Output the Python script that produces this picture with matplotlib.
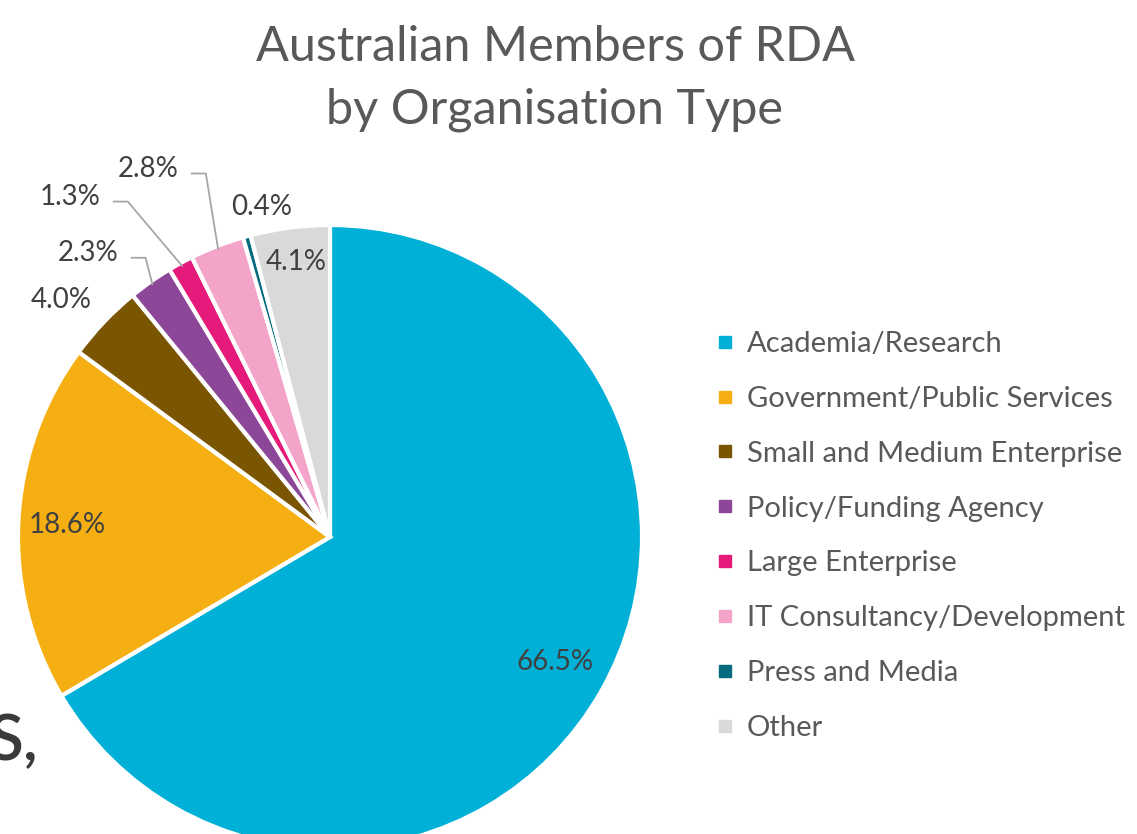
import matplotlib
matplotlib.use("Agg")
import matplotlib.pyplot as plt
from matplotlib.lines import Line2D
import numpy as np

categories = ["Academia/Research", "Government/Public Services", "Small and Medium Enterprise",
              "Policy/Funding Agency", "Large Enterprise", "IT Consultancy/Development",
              "Press and Media", "Other"]
values = [66.5, 18.6, 4.0, 2.3, 1.3, 2.8, 0.4, 4.1]
labels = ["66.5%", "18.6%", "4.0%", "2.3%", "1.3%", "2.8%", "0.4%", "4.1%"]
colors = ["#00B0D7", "#F6AF12", "#7A5502", "#8C4799", "#E61A7B", "#F4A3C9", "#046B7E", "#D9D9D9"]

# label positions (in pie-radius units) and whether a leader line is drawn
label_pos = [(0.72, -0.40), (-0.843, 0.04), (-0.86, 0.76), (-0.776, 0.91),
             (-0.833, 1.09), (-0.583, 1.18), (-0.218, 1.058), (-0.109, 0.88)]
leader = [False, False, False, True, True, True, False, False]

plt.rcParams['font.family'] = ['Lato', 'DejaVu Sans']
W, H = 1137, 834
fig = plt.figure(figsize=(W / 100, H / 100), dpi=100)
cx, cy, R = 330, 537, 312
ax = fig.add_axes([(cx - R) / W, (H - cy - R) / H, 2 * R / W, 2 * R / H])

wedges, _ = ax.pie(values, colors=colors, startangle=90, counterclock=False, radius=1,
                   wedgeprops=dict(edgecolor='white', linewidth=3), frame=False)
ax.set_xlim(-1, 1)
ax.set_ylim(-1, 1)
ax.axis('off')
for w in wedges:
    w.set_clip_on(False)

txtcol = "#404040"
for i, w in enumerate(wedges):
    lx, ly = label_pos[i]
    t = ax.text(lx, ly, labels[i], ha='center', va='center', fontsize=20, color=txtcol)
    t.set_clip_on(False)
    if leader[i]:
        mid = np.deg2rad((w.theta1 + w.theta2) / 2)
        ex, ey = np.cos(mid) * 0.99, np.sin(mid) * 0.99
        sx = lx + 0.14
        ex2 = sx + 0.045
        ln = ax.plot([sx, ex2, ex], [ly - 0.015, ly - 0.015, ey], color="#A6A6A6", lw=1.3)[0]
        ln.set_clip_on(False)

fig.text(555 / W, 1 - 47 / H, "Australian Members of RDA", ha='center', va='center',
         fontsize=35, color="#595959")
fig.text(555 / W, 1 - 110 / H, "by Organisation Type", ha='center', va='center',
         fontsize=35, color="#595959")

handles = [Line2D([0], [0], marker='s', linestyle='none', markersize=9,
                  markerfacecolor=c, markeredgecolor=c) for c in colors]
leg = fig.legend(handles, categories, loc='center left',
                 bbox_to_anchor=(703 / W, 1 - 536 / H), frameon=False,
                 fontsize=21, labelcolor="#595959", handlelength=0.7,
                 handletextpad=0.4, labelspacing=0.99, borderaxespad=0)

fig.text(-12 / W, 1 - 742 / H, "S,", ha='left', va='center', fontsize=46,
         color="#3A3A3A", fontweight='semibold')

fig.savefig("out.png", dpi=100)
